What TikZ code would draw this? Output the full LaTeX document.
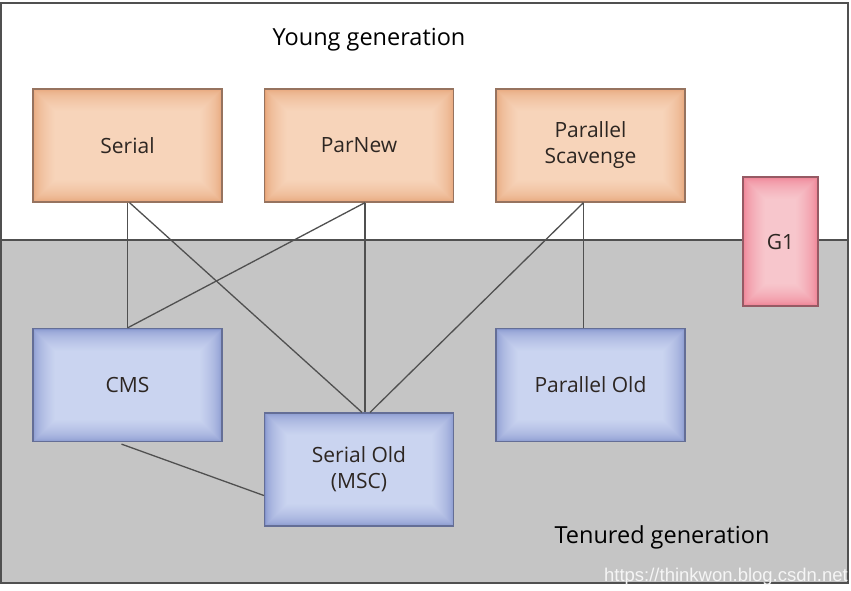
\documentclass[tikz,border=0pt]{standalone}
\usepackage{fontspec}
\setmainfont{Open Sans}
\newfontfamily\wmfont{Liberation Sans}
\definecolor{orE}{RGB}{230,163,118}
\definecolor{orC}{RGB}{247,212,186}
\definecolor{orB}{RGB}{150,115,95}
\definecolor{blE}{RGB}{132,148,205}
\definecolor{blC}{RGB}{202,212,240}
\definecolor{blB}{RGB}{100,110,150}
\definecolor{piE}{RGB}{238,122,142}
\definecolor{piC}{RGB}{247,198,204}
\definecolor{piB}{RGB}{150,90,100}
\definecolor{bgG}{RGB}{197,197,197}
\definecolor{lnC}{RGB}{80,80,80}
\definecolor{txC}{RGB}{45,38,34}
\tikzset{
  glowbox/.style={draw=#1B, line width=1.2pt, fill=#1E, text=txC,
    font=\fontsize{21}{26}\selectfont, align=center,
    minimum width=189pt, minimum height=113pt, inner sep=0pt,
    path picture={\foreach \k in {0,...,22}{\pgfmathsetmacro\pc{100*sqrt(\k/22)}
      \fill[#1C!\pc!#1E] ([shift={(\k*1pt,\k*1pt)}]path picture bounding box.south west)
        rectangle ([shift={(-\k*1pt,-\k*1pt)}]path picture bounding box.north east);}}},
  conn/.style={draw=lnC, line width=1.3pt},
  genlabel/.style={font=\fontsize{23.5}{28}\selectfont, text=black}
}
\begin{document}
\begin{tikzpicture}[x=1pt,y=-1pt]
\useasboundingbox (0,0) rectangle (851,590);
\clip (0,0) rectangle (851,590);
\fill[white] (0,0) rectangle (851,590);
\fill[bgG] (1,240) rectangle (848,583);
\draw[lnC, line width=1.5pt] (1,3) rectangle (848,583);
\draw[lnC, line width=1.5pt] (1,240) -- (848,240);

\node[genlabel] (young) at (369,40) {Young generation};
\node[genlabel] (tenured) at (662,537) {Tenured generation};

\node[glowbox=or] (serial) at (127.5,145.5) {Serial};
\node[glowbox=or] (parnew) at (359,145.5) {ParNew};
\node[glowbox=or] (ps) at (590.5,145.5) {Parallel\\Scavenge};
\node[glowbox=bl] (cms) at (127.5,385) {CMS};
\node[glowbox=bl] (so) at (359,469.5) {Serial Old\\(MSC)};
\node[glowbox=bl] (po) at (590.5,385) {Parallel Old};
\node[glowbox=pi, minimum width=75pt, minimum height=129pt] (g1) at (780.5,241.5) {G1};

\draw[conn] (serial.south) -- (cms.north);
\draw[conn] ([xshift=2pt]serial.south) -- ([xshift=3pt]so.north);
\draw[conn] ([xshift=6pt]parnew.south) -- (cms.north);
\draw[conn] ([xshift=6pt]parnew.south) -- ([xshift=6pt]so.north);
\draw[conn] ([xshift=-7pt]ps.south) -- ([xshift=11pt]so.north);
\draw[conn] ([xshift=-7pt]ps.south) -- ([xshift=-7pt]po.north);
\draw[conn] ([xshift=-6pt,yshift=-2pt]cms.south) -- ([yshift=-26pt]so.west);

\node[anchor=east, inner sep=0pt, font=\wmfont\fontsize{18.5}{22}\selectfont, text=white!92!gray] (wm) at (848,577) {https://thinkwon.blog.csdn.net};
\end{tikzpicture}
\end{document}
